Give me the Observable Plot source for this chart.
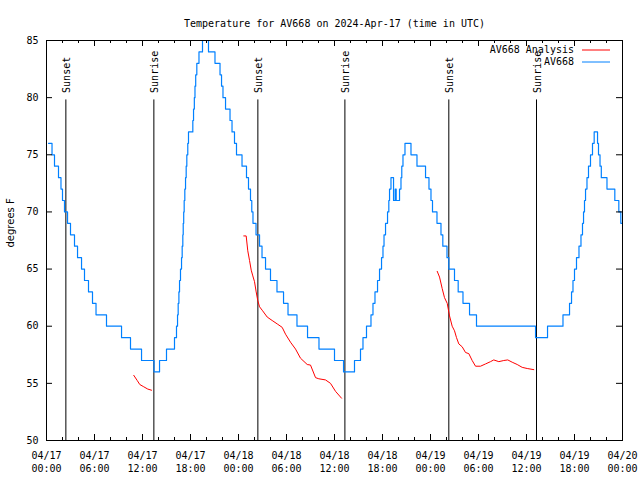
<!DOCTYPE html>
<html>
<head>
<meta charset="utf-8">
<script src="https://cdn.jsdelivr.net/npm/d3@7"></script>
<script src="https://cdn.jsdelivr.net/npm/@observablehq/plot@0.6"></script>
<style>
  html, body { margin: 0; padding: 0; background: #fff; }
</style>
</head>
<body>
<div id="chart"></div>
<script>
// ---- data (hours since 2024-04-17 00:00 UTC) ----
const titleText = "Temperature for AV668 on 2024-Apr-17 (time in UTC)";
const yLabel = "degrees F";

// AV668 observations: time of each change (hours) and the temperature from then on
const obsHours = [0.25,0.69,1.0,1.5,1.81,2.0,2.25,2.63,3.0,3.5,3.88,4.38,4.75,5.25,5.75,6.19,7.5,9.38,10.5,11.88,13.44,14.13,15.0,
  16.0,16.25,16.38,16.46,16.55,16.63,16.75,16.88,16.96,17.04,17.09,17.15,17.21,17.29,17.38,17.46,17.54,17.66,17.75,18.29,18.38,18.48,18.56,18.65,18.79,19.06,19.5,
  20.25,21.06,21.69,21.88,22.06,22.38,22.94,23.19,23.5,23.75,24.44,25.0,25.25,25.5,25.66,25.81,26.19,26.63,26.94,27.38,28.0,28.81,29.63,30.19,31.31,32.63,34.06,36.0,37.13,
  38.5,39.25,39.56,40.0,40.56,40.81,41.06,41.38,41.63,41.88,42.06,42.19,42.38,42.63,42.79,42.88,43.06,43.38,43.59,43.71,44.13,44.31,44.41,44.56,44.81,
  45.56,46.31,47.38,47.81,48.06,48.25,48.81,49.31,49.54,50.06,50.29,51.0,51.46,52.06,52.88,53.75,61.13,62.63,
  64.56,65.38,65.63,65.81,66.0,66.25,66.56,66.81,67.0,67.13,67.25,67.38,67.56,67.75,68.0,68.25,68.46,68.88,69.0,69.19,69.35,70.06,71.04,71.54,71.79,72.0];
const obsTemps = [76,75,74,73,72,71,70,69,68,67,66,65,64,63,62,61,60,59,58,57,56,57,58,
  59,60,61,62,63,64,65,66,67,68,69,70,71,72,73,74,75,76,77,78,79,80,81,82,83,84,85,
  84,83,82,81,80,79,78,77,76,75,74,73,72,71,70,69,68,67,66,65,64,63,62,61,60,59,58,57,56,
  57,58,59,60,61,62,63,64,65,66,67,68,69,70,71,72,73,71,72,71,72,73,74,75,76,
  75,74,73,72,71,70,69,68,67,66,65,64,63,62,61,60,59,60,
  61,62,63,64,65,66,67,68,69,70,71,72,73,74,75,76,77,76,75,74,73,72,71,70,69,69];

// AV668 Analysis: three separate runs
const anaRun = [1,1,1,1,1,1,
  2,2,2,2,2,2,2,2,2,2,2,2,2,2,2,2,2,2,2,2,2,2,2,2,2,2,2,
  3,3,3,3,3,3,3,3,3,3,3,3,3,3,3,3,3,3,3,3,3,3,3,3,3,3,3];
const anaHours = [10.91,11.34,11.66,12.16,12.66,13.13,
  24.66,24.96,25.16,25.38,25.59,25.79,26.0,26.21,26.41,26.63,26.96,27.59,28.21,28.84,29.46,29.88,30.5,31.13,31.75,32.59,33.0,33.63,34.04,34.88,35.5,36.13,36.88,
  48.84,49.13,49.46,49.75,50.09,50.38,50.71,51.0,51.25,51.54,51.96,52.38,52.79,53.21,53.63,54.25,54.88,55.5,55.91,56.54,57.16,57.66,58.21,58.84,59.46,60.09,60.91];
const anaTemps = [55.7,55.25,54.9,54.7,54.5,54.4,
  67.9,67.9,66.6,65.75,64.9,64.4,63.9,63.0,62.25,61.7,61.4,60.8,60.5,60.2,59.9,59.3,58.6,58.0,57.2,56.65,56.6,55.5,55.4,55.3,55.0,54.3,53.7,
  64.8,64.3,63.3,62.5,62.0,60.9,60.0,59.6,59.0,58.45,58.2,57.7,57.6,57.0,56.5,56.5,56.7,56.9,57.05,56.9,57.0,57.05,56.85,56.65,56.4,56.3,56.2];

// Sun events
const sunHours = [2.42, 13.42, 26.42, 37.3, 50.29, 61.25];
const sunNames = ["Sunset", "Sunrise", "Sunset", "Sunrise", "Sunset", "Sunrise"];
const sunLineTop = 79.8;

// Axes
const xDomainHours = [0, 72];
const xMajorHours = [0, 6, 12, 18, 24, 30, 36, 42, 48, 54, 60, 66, 72];
const xTickLabels = ["04/17\n00:00","04/17\n06:00","04/17\n12:00","04/17\n18:00","04/18\n00:00","04/18\n06:00","04/18\n12:00","04/18\n18:00","04/19\n00:00","04/19\n06:00","04/19\n12:00","04/19\n18:00","04/20\n00:00"];
const xMinorHours = d3.range(0, 73, 2);
const yDomain = [50, 85];
const yTicks = [50, 55, 60, 65, 70, 75, 80, 85];

const seriesNames = ["AV668 Analysis", "AV668"];
const seriesColors = ["#ff0000", "#0080ff"];

// ---- build ----
const t0 = Date.UTC(2024, 3, 17);
const toDate = h => new Date(t0 + h * 3600e3);

const obs = obsHours.map((h, i) => ({t: toDate(h), v: obsTemps[i]}));
const ana = anaHours.map((h, i) => ({t: toDate(h), v: anaTemps[i], run: anaRun[i]}));
const sun = sunHours.map((h, i) => ({t: toDate(h), name: sunNames[i]}));
const majors = xMajorHours.map((h, i) => ({t: toDate(h), label: xTickLabels[i]}));
const minors = xMinorHours.map(toDate);

const W = 640, H = 480, mL = 46, mR = 18, mT = 40, mB = 40;
const pw = W - mL - mR, ph = H - mT - mB;
const MONO = "DejaVu Sans Mono";
const FS = 10;

const legend = () => {
  const g = d3.create("svg:g")
    .attr("font-family", MONO).attr("font-size", FS);
  seriesNames.forEach((name, i) => {
    const y = mT + 10 + i * 12;
    g.append("text").attr("x", W - mR - 48).attr("y", y).attr("dy", "0.32em")
      .attr("text-anchor", "end").attr("fill", "black").text(name);
    g.append("line").attr("x1", W - mR - 40).attr("x2", W - mR - 12)
      .attr("y1", y).attr("y2", y).attr("stroke", seriesColors[i]).attr("stroke-width", 1);
  });
  return g.node();
};

const chart = Plot.plot({
  width: W, height: H,
  marginLeft: mL, marginRight: mR, marginTop: mT, marginBottom: mB,
  style: {background: "#fff", fontFamily: MONO, fontSize: FS + "px", color: "black"},
  x: {type: "utc", domain: xDomainHours.map(toDate), axis: null},
  y: {domain: yDomain, axis: null},
  marks: [
    // sun rules
    Plot.ruleX(sun, {x: "t", y1: yDomain[0], y2: sunLineTop, stroke: "black", strokeWidth: 1}),
    Plot.text(sun, {x: "t", y: sunLineTop, text: "name", rotate: -90, textAnchor: "start", dy: -7, dx: 1, fill: "black", fontFamily: MONO, fontSize: FS}),
    // series
    Plot.line(ana, {x: "t", y: "v", z: "run", stroke: seriesColors[0], strokeWidth: 1, clip: true}),
    Plot.line(obs, {x: "t", y: "v", curve: "step-after", stroke: seriesColors[1], strokeWidth: 1.2, clip: true}),
    // inward ticks: bottom & top
    Plot.ruleX(majors, {x: "t", insetTop: ph - 6, stroke: "black"}),
    Plot.ruleX(majors, {x: "t", insetBottom: ph - 6, stroke: "black"}),
    Plot.ruleX(minors, {insetTop: ph - 3, stroke: "black"}),
    Plot.ruleX(minors, {insetBottom: ph - 3, stroke: "black"}),
    // inward ticks: left & right
    Plot.ruleY(yTicks, {insetRight: pw - 6, stroke: "black"}),
    Plot.ruleY(yTicks, {insetLeft: pw - 6, stroke: "black"}),
    Plot.frame({stroke: "black", strokeWidth: 1}),
    // tick labels
    Plot.text(majors, {x: "t", text: "label", frameAnchor: "bottom", lineAnchor: "top", dy: 9, lineHeight: 1.3, fill: "black", fontFamily: MONO, fontSize: FS}),
    Plot.text(yTicks, {y: d => d, text: d => String(d), frameAnchor: "left", textAnchor: "end", dx: -8, fill: "black", fontFamily: MONO, fontSize: FS}),
    Plot.text([yLabel], {text: d => d, frameAnchor: "left", dx: -36, dy: 7, rotate: -90, fill: "black", fontFamily: "DejaVu Sans", fontSize: FS}),
    // title
    Plot.text([titleText], {text: d => d, frameAnchor: "top", dy: -21, fill: "black", fontFamily: MONO, fontSize: FS}),
    legend
  ]
});
document.getElementById("chart").appendChild(chart);
</script>
</body>
</html>
